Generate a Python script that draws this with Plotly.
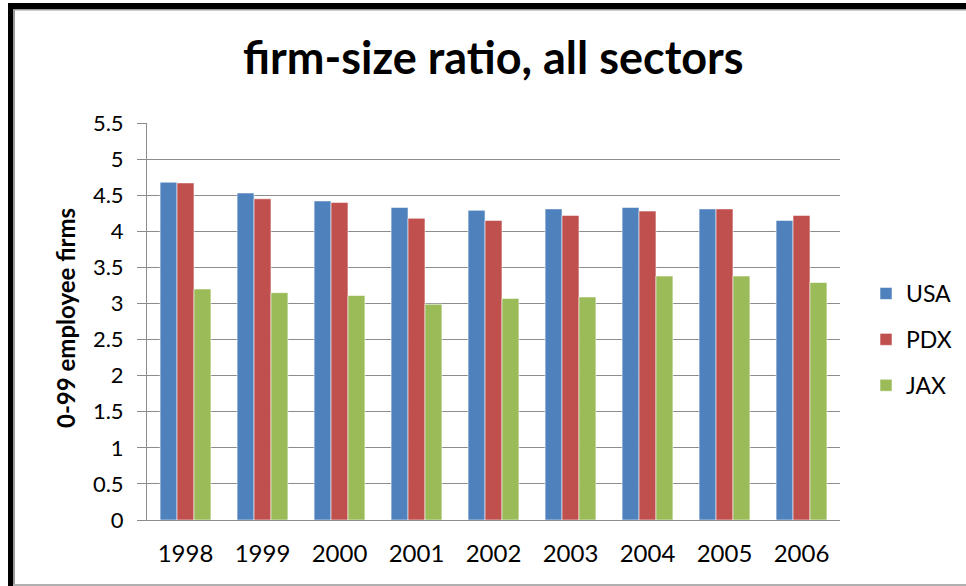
import plotly.graph_objects as go

years = ["1998", "1999", "2000", "2001", "2002", "2003", "2004", "2005", "2006"]
usa = [4.68, 4.53, 4.42, 4.33, 4.29, 4.31, 4.33, 4.31, 4.15]
pdx = [4.67, 4.45, 4.40, 4.18, 4.15, 4.22, 4.28, 4.31, 4.22]
jax = [3.20, 3.15, 3.11, 2.99, 3.07, 3.09, 3.38, 3.38, 3.29]
series = [("USA", usa, "#4F81BD"), ("PDX", pdx, "#C0504D"), ("JAX", jax, "#9BBB59")]
y_ticks = [0, 0.5, 1, 1.5, 2, 2.5, 3, 3.5, 4, 4.5, 5, 5.5]

W, H = 966, 586
L, R, T, B = 147, 840, 123, 520  # plot area in px

def px(x):
    return (x - L) / (R - L)

def py(y):
    return (B - y) / (B - T)

fig = go.Figure()
for i, (name, vals, col) in enumerate(series):
    fig.add_trace(go.Bar(
        x=years, y=vals, name=name, legendgroup=name,
        marker=dict(color=col, line=dict(color="rgba(255,255,255,0.55)", width=1)),
    ))

font = "Lato, 'Open Sans', sans-serif"
grid = "#8C8C8C"

shapes = [
    dict(type="rect", xref="paper", yref="paper", x0=px(8), x1=px(966), y0=py(9), y1=py(3),
         fillcolor="black", line=dict(width=0), layer="above"),
    dict(type="rect", xref="paper", yref="paper", x0=px(13), x1=px(966), y0=py(10.5), y1=py(9),
         fillcolor="#9A9A9A", line=dict(width=0), layer="above"),
    dict(type="rect", xref="paper", yref="paper", x0=px(8), x1=px(13), y0=py(586), y1=py(3),
         fillcolor="black", line=dict(width=0), layer="above"),
    dict(type="rect", xref="paper", yref="paper", x0=px(13), x1=px(15), y0=py(586), y1=py(9),
         fillcolor="#9A9A9A", line=dict(width=0), layer="above"),
    dict(type="rect", xref="paper", yref="paper", x0=px(13), x1=px(966), y0=py(586), y1=py(584),
         fillcolor="#B0B0B0", line=dict(width=0), layer="above"),
]

fig.update_layout(
    width=W, height=H,
    margin=dict(l=L, r=W - R, t=T, b=H - B, pad=0, autoexpand=False),
    paper_bgcolor="white", plot_bgcolor="white",
    barmode="group", bargap=0.34, bargroupgap=0,
    font=dict(family=font, color="black", size=19),
    showlegend=True,
    legend=dict(x=px(866), y=py(272), xanchor="left", yanchor="top",
                font=dict(size=23, family=font), traceorder="grouped",
                tracegroupgap=13, itemwidth=30, bgcolor="rgba(0,0,0,0)"),
    shapes=shapes,
    annotations=[
        dict(text="<b>firm-size ratio, all sectors</b>", xref="paper", yref="paper",
             x=px(494), y=py(57), xanchor="center", yanchor="middle", showarrow=False,
             font=dict(size=45, family=font, color="black")),
        dict(text="<b>0-99 employee firms</b>", xref="paper", yref="paper",
             x=px(65), y=py(318), xanchor="center", yanchor="middle", showarrow=False,
             textangle=-90, font=dict(size=24, family=font, color="black")),
    ],
)
fig.update_yaxes(
    range=[0, 5.5], tickvals=y_ticks, ticktext=[f"{v:g}" for v in y_ticks],
    showgrid=True, gridcolor=grid, gridwidth=1,
    showline=True, linecolor=grid, linewidth=1,
    ticks="outside", ticklen=9, tickcolor=grid,
    tickfont=dict(size=22, family=font), zeroline=False, ticklabelstandoff=9,
)
fig.update_xaxes(
    showline=True, linecolor=grid, linewidth=1, ticks="",
    tickfont=dict(size=24, family=font), ticklabelstandoff=12,
)

fig.write_html("out.html")
